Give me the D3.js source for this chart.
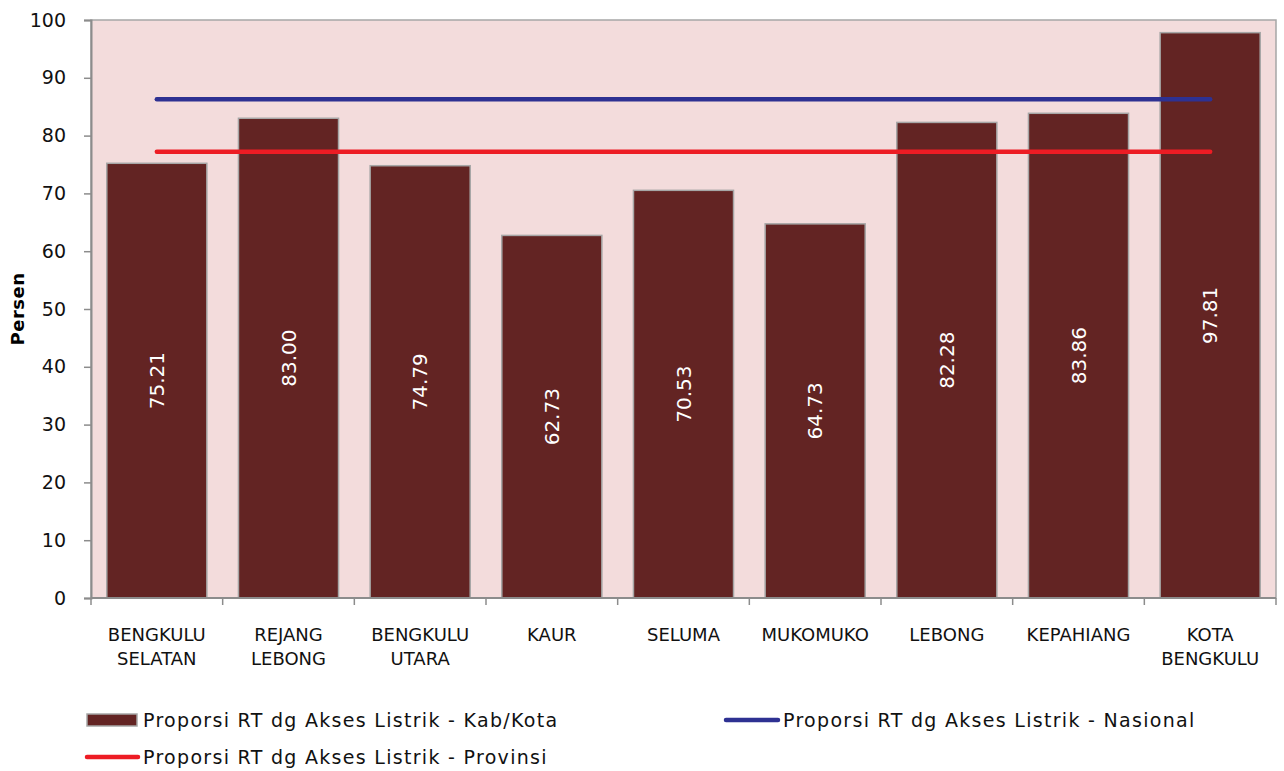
<!DOCTYPE html>
<html><head><meta charset="utf-8">
<script src="https://cdn.jsdelivr.net/npm/d3@7"></script>
<style>body{margin:0;background:#fff;font-family:"DejaVu Sans",sans-serif;}</style>
</head><body><svg id="c" width="1284" height="771"></svg>
<script>
const categories = [["BENGKULU","SELATAN"],["REJANG","LEBONG"],["BENGKULU","UTARA"],["KAUR"],["SELUMA"],["MUKOMUKO"],["LEBONG"],["KEPAHIANG"],["KOTA","BENGKULU"]];
const kabKota = [75.21,83.00,74.79,62.73,70.53,64.73,82.28,83.86,97.81];
const nasional = 86.3;
const provinsi = 77.2;
const yTicks = [0,10,20,30,40,50,60,70,80,90,100];
const legendLabels = ["Proporsi RT dg Akses Listrik - Kab/Kota","Proporsi RT dg Akses Listrik - Nasional","Proporsi RT dg Akses Listrik - Provinsi"];

const svg = d3.select("#c");
const m = {l:91, r:1276, t:20, b:598};
const keys = categories.map((c,i)=>i);
const x = d3.scaleBand().domain(keys).range([m.l,m.r]).paddingInner(0.24).paddingOuter(0.12);
const y = d3.scaleLinear().domain([0,100]).range([m.b,m.t]);
const font = "'DejaVu Sans',sans-serif";

svg.append("rect").attr("x",m.l).attr("y",m.t).attr("width",m.r-m.l).attr("height",m.b-m.t)
  .attr("fill","#f3dcdc").attr("stroke","#a6a6a6").attr("stroke-width",1.5);

svg.selectAll(".bar").data(kabKota).enter().append("rect")
  .attr("x",(d,i)=>x(i)).attr("y",d=>y(d)).attr("width",x.bandwidth()).attr("height",d=>y(0)-y(d))
  .attr("fill","#632423").attr("stroke","#a6a6a6").attr("stroke-width",1.5);

svg.selectAll(".bl").data(kabKota).enter().append("text")
  .attr("transform",(d,i)=>`translate(${x(i)+x.bandwidth()/2+7},${(y(d)+y(0))/2}) rotate(-90)`)
  .attr("text-anchor","middle").attr("fill","#fff").attr("font-size",20).attr("font-family",font)
  .text(d=>d.toFixed(2));

const cx0 = x(0)+x.bandwidth()/2, cx1 = x(keys.length-1)+x.bandwidth()/2;
svg.append("line").attr("x1",cx0).attr("x2",cx1).attr("y1",y(nasional)).attr("y2",y(nasional))
  .attr("stroke","#2e3192").attr("stroke-width",4.5).attr("stroke-linecap","round");
svg.append("line").attr("x1",cx0).attr("x2",cx1).attr("y1",y(provinsi)).attr("y2",y(provinsi))
  .attr("stroke","#ed1c24").attr("stroke-width",4.5).attr("stroke-linecap","round");

// y axis
const ya = svg.append("g").attr("transform",`translate(${m.l},0)`)
  .call(d3.axisLeft(y).tickValues(yTicks).tickSize(7).tickPadding(18).tickFormat(d3.format("d")));
ya.select(".domain").attr("stroke","#8c8c8c").attr("stroke-width",2);
ya.selectAll(".tick line").attr("stroke","#8c8c8c").attr("stroke-width",1.5);
ya.selectAll(".tick text").attr("font-size",19).attr("font-family",font).attr("fill","#111");

// x axis
const xa = svg.append("g").attr("transform",`translate(0,${m.b})`);
xa.append("line").attr("x1",m.l).attr("x2",m.r).attr("stroke","#8c8c8c").attr("stroke-width",2);
const bounds = keys.map(i=>x(i)-x.step()*x.paddingInner()/2).concat([m.r]);
bounds[0]=m.l;
xa.selectAll(".xt").data(bounds).enter().append("line")
  .attr("x1",d=>d).attr("x2",d=>d).attr("y1",0).attr("y2",7).attr("stroke","#8c8c8c").attr("stroke-width",1.5);
const xl = svg.selectAll(".xl").data(categories).enter().append("text")
  .attr("text-anchor","middle").attr("font-size",18).attr("font-family",font).attr("fill","#111");
xl.each(function(c,i){
  const t=d3.select(this);
  c.forEach((s,j)=>t.append("tspan").attr("x",x(i)+x.bandwidth()/2).attr("y",641+j*24).text(s));
});

// y title
svg.append("text").attr("transform",`translate(24,${(m.t+m.b)/2}) rotate(-90)`)
  .attr("text-anchor","middle").attr("font-size",18).attr("letter-spacing",0.5).attr("font-weight","bold").attr("font-family",font).text("Persen");

// legend
const lg = svg.append("g").attr("font-family",font).attr("font-size",19).attr("letter-spacing",1.3).attr("fill","#111");
lg.append("rect").attr("x",87).attr("y",714).attr("width",50).attr("height",12).attr("fill","#632423").attr("stroke","#a6a6a6").attr("stroke-width",1.5);
lg.append("text").attr("x",143).attr("y",727).text(legendLabels[0]);
lg.append("line").attr("x1",726).attr("x2",778).attr("y1",720).attr("y2",720).attr("stroke","#2e3192").attr("stroke-width",4.5).attr("stroke-linecap","round");
lg.append("text").attr("x",783).attr("y",727).text(legendLabels[1]);
lg.append("line").attr("x1",87).attr("x2",138).attr("y1",757).attr("y2",757).attr("stroke","#ed1c24").attr("stroke-width",4.5).attr("stroke-linecap","round");
lg.append("text").attr("x",143).attr("y",764).text(legendLabels[2]);
</script></body></html>
